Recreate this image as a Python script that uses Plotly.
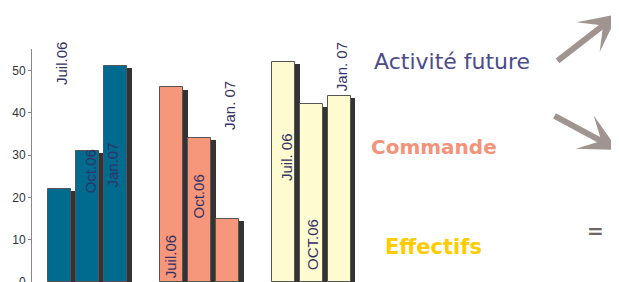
import plotly.graph_objects as go

# ---- data ----
groups = ["Activité future", "Commande", "Effectifs"]
activite = [22, 31, 51]
commande = [46, 34, 15]
effectifs = [52, 42, 44]
period_labels = [
    ["Juil.06", "Oct.06", "Jan.07"],
    ["Juil.06", "Oct.06", "Jan. 07"],
    ["Juil. 06", "OCT.06", "Jan. 07"],
]
yticks = [0, 10, 20, 30, 40, 50]

# ---- style ----
colors = ["#006A8F", "#F6967A", "#FFFBD0"]
text_colors = ["#4B4B8C", "#F4927A", "#FFCC00"]
label_color = "#333366"
# label placement (x offset from bar centre, y centre in value units)
label_dx = [[0.08, 0.10, -0.13], [-0.04, -0.03, 0.04], [0.13, 0.04, 0.05]]
label_yc = [[51.6, 26.1, 27.6], [6.0, 20.2, 41.8], [29.6, 8.9, 51.0]]

series = [activite, commande, effectifs]
W = 0.82

fig = go.Figure()
# shadows first
for gi, vals in enumerate(series):
    xs = [gi * 4 + i for i in range(len(vals))]
    fig.add_trace(go.Bar(
        x=[x + 0.16 for x in xs], y=[v - 0.5 for v in vals], width=W,
        marker=dict(color="#333333", line=dict(width=0)),
        hoverinfo="skip", showlegend=False))
for gi, vals in enumerate(series):
    xs = [gi * 4 + i for i in range(len(vals))]
    fig.add_trace(go.Bar(
        x=xs, y=vals, width=W, name=groups[gi],
        marker=dict(color=colors[gi], line=dict(color="#555555", width=1)),
        showlegend=False))

annotations = []
for gi, vals in enumerate(series):
    for i in range(len(vals)):
        annotations.append(dict(
            x=gi * 4 + i + label_dx[gi][i], y=label_yc[gi][i],
            xref="x", yref="y", text=period_labels[gi][i], textangle=-90,
            showarrow=False, xanchor="center", yanchor="middle",
            font=dict(family="Liberation Sans, Arial", size=15, color=label_color)))

# page px -> paper helpers (plot area on page: x 32..619, y 49..282;
# the page body adds an 8px margin, compensated in the layout margins)
def px(xp):
    return (xp - 32) / 587.0

def py(yp):
    return (282 - yp) / 233.0

side_font = "Comic Sans MS, DejaVu Sans, sans-serif"
annotations += [
    dict(x=px(452), y=py(61), xref="paper", yref="paper", text=groups[0],
         xanchor="center", yanchor="middle",
         showarrow=False, font=dict(family=side_font, size=22, color=text_colors[0])),
    dict(x=px(434), y=py(147), xref="paper", yref="paper", text="<b>" + groups[1] + "</b>",
         xanchor="center", yanchor="middle",
         showarrow=False, font=dict(family=side_font, size=20, color=text_colors[1])),
    dict(x=px(433), y=py(247), xref="paper", yref="paper", text="<b>" + groups[2] + "</b>",
         xanchor="center", yanchor="middle",
         showarrow=False, font=dict(family=side_font, size=21, color=text_colors[2])),
    dict(x=px(595), y=py(231), xref="paper", yref="paper", text="<b>=</b>",
         xanchor="center", yanchor="middle",
         showarrow=False, font=dict(family=side_font, size=20, color="#6E6464")),
    # arrows
    dict(x=px(620), y=py(14), xref="paper", yref="paper", text="",
         showarrow=True, arrowhead=3, arrowsize=1.05, arrowwidth=6, arrowcolor="#A09490",
         ax=556 - 620, ay=62 - 14, axref="pixel", ayref="pixel", standoff=0),
    dict(x=px(620), y=py(150), xref="paper", yref="paper", text="",
         showarrow=True, arrowhead=3, arrowsize=1.05, arrowwidth=6, arrowcolor="#A09490",
         ax=553 - 620, ay=115 - 150, axref="pixel", ayref="pixel", standoff=0),
]

fig.update_layout(
    width=611, height=274,
    margin=dict(l=24, r=0, t=41, b=0, pad=0, autoexpand=False),
    paper_bgcolor="white", plot_bgcolor="white",
    barmode="overlay", bargap=0,
    annotations=annotations,
    xaxis=dict(visible=False, range=[-1, 20.0], fixedrange=True, automargin=False),
    yaxis=dict(range=[0, 55.1], tickvals=yticks, ticks="outside", ticklen=3,
               tickcolor="#888888", showline=True, linecolor="#888888", linewidth=1,
               showgrid=False, zeroline=False, automargin=False,
               ticklabeloverflow="allow",
               tickfont=dict(family="Liberation Sans, Arial", size=12, color="#333333")),
)

fig.write_html("out.html")
